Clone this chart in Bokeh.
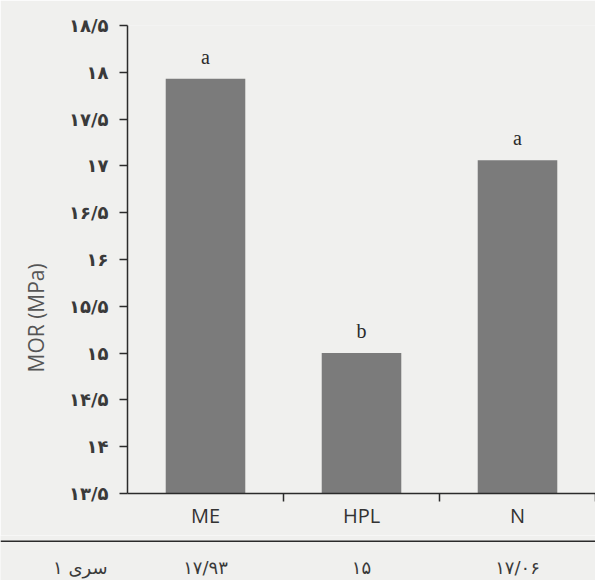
import numpy as np
from bokeh.plotting import figure
from bokeh.layouts import column, row
from bokeh.models import Range1d, FixedTicker, LinearAxis, ColumnDataSource, Span, Title
from bokeh.core.properties import value
from bokeh.embed import file_html
from bokeh.resources import INLINE

# Modulus of rupture per treatment, with significance groups
treatments = ["ME", "HPL", "N"]
mor = [17.93, 15.0, 17.06]
groups = ["a", "b", "a"]
y_ticks = [13.5, 14.0, 14.5, 15.0, 15.5, 16.0, 16.5, 17.0, 17.5, 18.0, 18.5]
y_title = "MOR (MPa)"
series_name = "سری ۱"

BG = "#f0f0ee"
BAR = "#7b7b7b"
INK = "#2b2b2b"
TXT = "#3a3a3a"

W = 595
LEFT = 127          # left margin of the chart area

# Persian digits with "/" as the decimal separator
FA = str.maketrans("0123456789.", "۰۱۲۳۴۵۶۷۸۹/")


def fa(v):
    return f"{v:g}".translate(FA)


n = len(treatments)
centres = (np.arange(n) + 0.5).tolist()      # one unit-wide slot per treatment
edges = list(range(1, n + 1))                 # slot boundaries
slot_px = (W - LEFT) / n

src = ColumnDataSource(dict(x=centres, mor=mor, grp=groups,
                            txt=[fa(v) for v in mor]))

# ---- bar chart -------------------------------------------------------------
p = figure(width=W, height=535,
           x_range=Range1d(0, n),
           y_range=Range1d(y_ticks[0], y_ticks[-1]),
           x_axis_location=None,
           min_border_left=LEFT, min_border_right=0,
           min_border_top=25, min_border_bottom=42,
           output_backend="svg", toolbar_location=None)
p.background_fill_color = BG
p.border_fill_color = BG
p.outline_line_color = None
p.grid.visible = False

p.vbar(x="x", top="mor", bottom=y_ticks[0], width=0.51, source=src,
       fill_color=BAR, line_color=None)

p.text(x="x", y="mor", text="grp", source=src, text_align="center",
       text_baseline="alphabetic", y_offset=-22,
       text_font=value("Liberation Serif"), text_font_size="20px", text_color=INK)

# y axis with Persian tick labels
ya = p.yaxis[0]
ya.ticker = FixedTicker(ticks=y_ticks)
ya.major_label_overrides = {(int(t) if t == int(t) else t): fa(t) for t in y_ticks}
ya.major_label_text_font = "DejaVu Sans"
ya.major_label_text_font_style = "bold"
ya.major_label_text_font_size = "18px"
ya.major_label_text_color = TXT
ya.major_label_standoff = 11
ya.major_tick_out = 8
ya.major_tick_in = 0
ya.minor_tick_line_color = None
ya.axis_line_color = INK
ya.axis_line_width = 1.5
ya.major_tick_line_color = INK
ya.major_tick_line_width = 1.5

# y title sits in the left margin, a little below the middle of the axis
p.add_layout(Title(text=y_title, align="left", offset=121, standoff=32,
                   text_font="Open Sans", text_font_style="normal",
                   text_font_size="21px", text_color="#555555"), "left")

# x axis: tick marks on the slot boundaries ...
edge_axis = LinearAxis(ticker=FixedTicker(ticks=edges))
edge_axis.major_label_overrides = {e: "" for e in edges}
edge_axis.major_label_text_font_size = "0px"
edge_axis.major_label_standoff = 0
edge_axis.major_tick_out = 8
edge_axis.major_tick_in = 0
edge_axis.minor_tick_line_color = None
edge_axis.axis_line_color = INK
edge_axis.axis_line_width = 1.5
edge_axis.major_tick_line_color = INK
edge_axis.major_tick_line_width = 1.5
p.add_layout(edge_axis, "below")

# ... and the treatment names at the slot centres
name_axis = LinearAxis(ticker=FixedTicker(ticks=centres))
name_axis.major_label_overrides = dict(zip(centres, treatments))
name_axis.axis_line_color = None
name_axis.major_tick_line_color = None
name_axis.minor_tick_line_color = None
name_axis.major_label_standoff = -6
name_axis.major_label_text_font = "Open Sans"
name_axis.major_label_text_font_size = "20px"
name_axis.major_label_text_color = "#333333"
p.add_layout(name_axis, "below")

# ---- data row beneath the chart --------------------------------------------
t = figure(width=W, height=45,
           x_range=Range1d(-LEFT / slot_px, n), y_range=Range1d(0, 1),
           x_axis_location=None, y_axis_location=None,
           min_border_left=0, min_border_right=0,
           min_border_top=0, min_border_bottom=0,
           output_backend="svg", toolbar_location=None)
t.background_fill_color = BG
t.border_fill_color = BG
t.outline_line_color = None
t.grid.visible = False

t.add_layout(Span(location=0.87, dimension="width", line_color=INK, line_width=1.5))
t.text(x="x", y=0.29, text="txt", source=src, text_align="center",
       text_baseline="middle", text_font=value("DejaVu Sans"),
       text_font_size="18px", text_color=TXT)
t.text(x=[0], y=[0.29], text=[series_name], text_align="right",
       text_baseline="middle", x_offset=-20, text_font=value("DejaVu Sans"),
       text_font_size="18px", text_color=TXT)

layout = column(p, row(t), spacing=0)
open("out.html", "w").write(file_html(layout, INLINE))
